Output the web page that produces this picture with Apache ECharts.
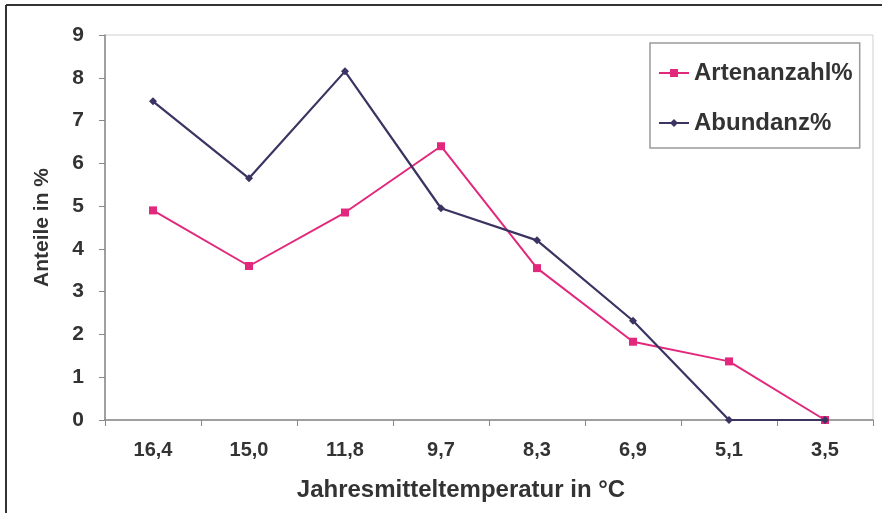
<!DOCTYPE html>
<html>
<head>
<meta charset="utf-8">
<script src="https://cdn.jsdelivr.net/npm/echarts@6/dist/echarts.min.js"></script>
<style>
  html, body { margin: 0; padding: 0; background: #fff; }
  #chart { width: 882px; height: 513px; }
</style>
</head>
<body>
<div id="chart"></div>
<script>
// Mean annual temperature classes (°C)
const temperatures = ['16,4', '15,0', '11,8', '9,7', '8,3', '6,9', '5,1', '3,5'];
// Share of species count per class (%)
const artenanzahl = [4.9, 3.6, 4.85, 6.4, 3.55, 1.83, 1.37, 0];
// Share of abundance per class (%)
const abundanz = [7.45, 5.65, 8.15, 4.95, 4.2, 2.32, 0, 0];
// Y axis range
const yTicks = { min: 0, max: 9, step: 1 };

const font = 'Liberation Sans, Arial, sans-serif';
const textColor = '#333333';
const pink = '#e2287c';
const navy = '#3a3462';

const chart = echarts.init(document.getElementById('chart'), null, { renderer: 'canvas' });
chart.setOption({
  backgroundColor: '#ffffff',
  animation: false,
  textStyle: { fontFamily: font },
  grid: {
    left: 105, right: 9, top: 35, bottom: 93,
    show: true, borderColor: '#cfcfcf', borderWidth: 1, backgroundColor: 'transparent'
  },
  legend: {
    orient: 'vertical',
    left: 650, top: 43,
    padding: [18, 7, 13, 8],
    itemWidth: 30, itemHeight: 10, itemGap: 26,
    borderColor: '#9a9a9a', borderWidth: 1.5,
    textStyle: { fontSize: 24, fontWeight: 'bold', color: textColor, fontFamily: font, lineHeight: 24 },
    data: ['Artenanzahl%', 'Abundanz%']
  },
  xAxis: {
    type: 'category',
    data: temperatures,
    boundaryGap: true,
    name: 'Jahresmitteltemperatur in °C',
    nameLocation: 'middle',
    nameGap: 58,
    nameTextStyle: { fontSize: 24, fontWeight: 'bold', color: textColor, fontFamily: font, padding: [0, 56, 0, 0] },
    axisLine: { lineStyle: { color: '#888', width: 1.5 } },
    axisTick: { show: true, inside: false, length: 6, alignWithLabel: false, lineStyle: { color: '#888' } },
    axisLabel: { fontSize: 20, fontWeight: 'bold', color: textColor, margin: 20, fontFamily: font }
  },
  yAxis: {
    type: 'value',
    min: yTicks.min, max: yTicks.max, interval: yTicks.step,
    name: 'Anteile in %',
    nameLocation: 'middle',
    nameGap: 52,
    nameRotate: 90,
    nameTextStyle: { fontSize: 21, fontWeight: 'bold', color: textColor, fontFamily: font },
    splitLine: { show: false },
    axisLine: { show: true, lineStyle: { color: '#888', width: 1.5 } },
    axisTick: { show: true, inside: false, length: 6, lineStyle: { color: '#888' } },
    axisLabel: { fontSize: 21, fontWeight: 'bold', color: textColor, margin: 21, fontFamily: font }
  },
  series: [
    {
      name: 'Artenanzahl%',
      type: 'line',
      data: artenanzahl,
      symbol: 'rect', symbolSize: 8,
      lineStyle: { color: pink, width: 2 },
      itemStyle: { color: pink },
      z: 2
    },
    {
      name: 'Abundanz%',
      type: 'line',
      data: abundanz,
      symbol: 'diamond', symbolSize: 8,
      lineStyle: { color: navy, width: 2.2 },
      itemStyle: { color: navy },
      z: 3
    }
  ],
  graphic: [
    { type: 'line', shape: { x1: 6, y1: 5, x2: 882, y2: 5 }, style: { stroke: '#333', lineWidth: 2 } },
    { type: 'line', shape: { x1: 6, y1: 5, x2: 6, y2: 513 }, style: { stroke: '#333', lineWidth: 2 } }
  ]
});
</script>
</body>
</html>
